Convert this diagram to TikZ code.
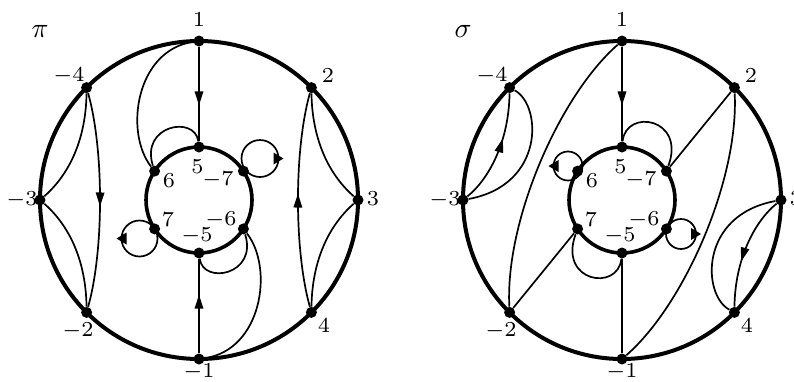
\documentclass[tikz,border=0pt]{standalone}
\usetikzlibrary{arrows.meta,decorations.markings,calc}
\pgfdeclarelayer{background}
\pgfsetlayers{background,main}
\newcommand\lb[1]{\scalebox{3.05}{\scriptsize$#1$}}
\newcommand\tl[1]{\scalebox{2.8}{$#1$}}
\begin{document}
\begin{tikzpicture}[x=1pt,y=-1pt,
  dot/.style={circle,fill=black,inner sep=0pt,minimum size=11pt},
  rim/.style={line width=4pt},
  inrim/.style={line width=3.6pt},
  edge/.style={line width=1.7pt},
  midarrow/.style={postaction={decorate},decoration={markings,mark=at position #1 with {\arrow{Triangle[length=14pt,width=8.5pt]}}}},
  lbl/.style={inner sep=0pt},
  tipR/.style={fill=black}]
\useasboundingbox (0,0) rectangle (794,381);
% ---------- left (pi) ----------
\coordinate (oL) at (199,200);
\node[dot] (L1) at (199,41) {};
\node[dot] (L2) at (311.4,87.6) {};
\node[dot] (L3) at (358,200) {};
\node[dot] (L4) at (311.4,312.4) {};
\node[dot] (Lm1) at (199,359) {};
\node[dot] (Lm2) at (86.6,312.4) {};
\node[dot] (Lm3) at (40,200) {};
\node[dot] (Lm4) at (86.6,87.6) {};
\node[dot] (L5) at (199,147) {};
\node[dot] (Lm7) at (243.4,171.1) {};
\node[dot] (L6) at (154.6,171.1) {};
\node[dot] (L7) at (154.6,228.9) {};
\node[dot] (Lm6) at (243.4,228.9) {};
\node[dot] (Lm5) at (199,253) {};
\coordinate (cLm7) at (260,158.5);
\coordinate (cL7) at (139.5,238.5);
\begin{pgfonlayer}{background}
\draw[rim] (oL) circle[radius=159];
\draw[inrim] (oL) circle[radius=53];
\draw[edge,midarrow=0.62] (L1) -- (L5);
\draw[edge] (L1) .. controls (136,50) and (124,132) .. (L6);
\draw[edge] (L6) .. controls (140,125) and (195,115) .. (L5);
\draw[edge] (Lm4) .. controls (86,135) and (72,172) .. (Lm3);
\draw[edge,midarrow=0.53] (Lm4) .. controls (104,150) and (104,250) .. (Lm2);
\draw[edge] (Lm3) .. controls (72,228) and (86,265) .. (Lm2);
\draw[edge] (L2) .. controls (312,135) and (326,172) .. (L3);
\draw[edge,midarrow=0.53] (L4) .. controls (294,250) and (294,150) .. (L2);
\draw[edge] (L3) .. controls (326,228) and (312,265) .. (L4);
\draw[edge,midarrow=0.62] (Lm1) -- (Lm5);
\draw[edge] (Lm6) .. controls (258,275) and (203,285) .. (Lm5);
\draw[edge] (Lm6) .. controls (274,268) and (262,350) .. (Lm1);
\draw[edge] (cLm7) circle[radius=18.5];
\draw[edge] (cL7) circle[radius=18];
\end{pgfonlayer}
\fill[tipR] ($(cLm7)+(23.5,0)$) -- ++(-10,-6) -- ++(0,12) -- cycle;
\fill[tipR] ($(cL7)+(-23,0)$) -- ++(10,-6) -- ++(0,12) -- cycle;
\node[lbl] (tL1) at (199,20) {\lb{1}};
\node[lbl] (tL2) at (328,76) {\lb{2}};
\node[lbl] (tLm4) at (69,76) {\lb{-4}};
\node[lbl] (tL3) at (373,199) {\lb{3}};
\node[lbl] (tLm3) at (22,200) {\lb{-3}};
\node[lbl] (tL4) at (324,326) {\lb{4}};
\node[lbl] (tLm2) at (78,331) {\lb{-2}};
\node[lbl] (tLm1) at (199,372) {\lb{-1}};
\node[lbl] (tL5) at (197.5,166.5) {\lb{5}};
\node[lbl] (tL6) at (169,180.5) {\lb{6}};
\node[lbl] (tLm7) at (218,179.5) {\lb{-7}};
\node[lbl] (tL7) at (168,219.5) {\lb{7}};
\node[lbl] (tLm6) at (221,220) {\lb{-6}};
\node[lbl] (tLm5) at (197,236) {\lb{-5}};
\node[lbl] (tpi) at (40,31) {\tl{\pi}};
% ---------- right (sigma) ----------
\coordinate (oR) at (622,200);
\node[dot] (R1) at (622,41) {};
\node[dot] (R2) at (734.4,87.6) {};
\node[dot] (R3) at (781,200) {};
\node[dot] (R4) at (734.4,312.4) {};
\node[dot] (Rm1) at (622,359) {};
\node[dot] (Rm2) at (509.6,312.4) {};
\node[dot] (Rm3) at (463,200) {};
\node[dot] (Rm4) at (509.6,87.6) {};
\node[dot] (R5) at (622,147) {};
\node[dot] (Rm7) at (666.4,171.1) {};
\node[dot] (R6) at (577.6,171.1) {};
\node[dot] (R7) at (577.6,228.9) {};
\node[dot] (Rm6) at (666.4,228.9) {};
\node[dot] (Rm5) at (622,253) {};
\coordinate (cR6) at (568,166);
\coordinate (cRm6) at (681,234);
\begin{pgfonlayer}{background}
\draw[rim] (oR) circle[radius=159];
\draw[inrim] (oR) circle[radius=53];
\draw[edge,midarrow=0.62] (R1) -- (R5);
\draw[edge] (R1) .. controls (560,95) and (505,220) .. (Rm2);
\draw[edge] (Rm1) .. controls (684,305) and (739,180) .. (R2);
\draw[edge] (R2) -- (Rm7);
\draw[edge] (Rm7) .. controls (686,118) and (626,108) .. (R5);
\draw[edge,midarrow=0.6] (Rm3) .. controls (490,178) and (509,140) .. (Rm4);
\draw[edge] (Rm4) .. controls (542,105) and (545,185) .. (Rm3);
\draw[edge,midarrow=0.6] (R3) .. controls (754,222) and (735,260) .. (R4);
\draw[edge] (R4) .. controls (702,295) and (699,215) .. (R3);
\draw[edge] (Rm2) -- (R7);
\draw[edge] (R7) .. controls (558,282) and (618,292) .. (Rm5);
\draw[edge] (Rm5) -- (Rm1);
\draw[edge] (cR6) circle[radius=14.5];
\draw[edge] (cRm6) circle[radius=15];
\end{pgfonlayer}
\fill[tipR] ($(cR6)+(-19.5,0)$) -- ++(10,-6) -- ++(0,12) -- cycle;
\fill[tipR] ($(cRm6)+(20,0)$) -- ++(-10,-6) -- ++(0,12) -- cycle;
\node[lbl] (tR1) at (622,20) {\lb{1}};
\node[lbl] (tR2) at (751,76) {\lb{2}};
\node[lbl] (tRm4) at (492,76) {\lb{-4}};
\node[lbl] (tR3) at (796,199) {\lb{3}};
\node[lbl] (tRm3) at (445,200) {\lb{-3}};
\node[lbl] (tR4) at (747,326) {\lb{4}};
\node[lbl] (tRm2) at (501,331) {\lb{-2}};
\node[lbl] (tRm1) at (622,372) {\lb{-1}};
\node[lbl] (tR5) at (620.5,166.5) {\lb{5}};
\node[lbl] (tR6) at (592,180.5) {\lb{6}};
\node[lbl] (tRm7) at (641,179.5) {\lb{-7}};
\node[lbl] (tR7) at (591,219.5) {\lb{7}};
\node[lbl] (tRm6) at (644,220) {\lb{-6}};
\node[lbl] (tRm5) at (620,236) {\lb{-5}};
\node[lbl] (tsigma) at (463,31) {\tl{\sigma}};
\end{tikzpicture}
\end{document}
